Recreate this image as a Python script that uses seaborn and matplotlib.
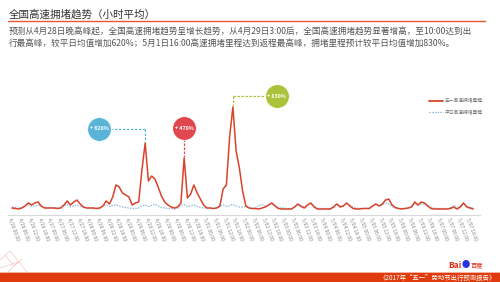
import numpy as np
import pandas as pd
import matplotlib
matplotlib.use("Agg")
import matplotlib.pyplot as plt
from matplotlib.lines import Line2D
from matplotlib.patches import Rectangle
import seaborn as sns

# ---------------- data (2-hourly, from 4/26 00:00) ----------------
holiday_by_day = [
    [7, 6.5, 6, 7, 9, 12, 10, 12, 13, 9, 7, 7],            # 4/26
    [7, 7, 6.5, 7, 10, 14, 10, 13, 15, 11, 8, 7],          # 4/27
    [7, 7, 6.5, 7, 9, 14, 11, 18, 30, 28, 22, 20],         # 4/28
    [18, 10, 12, 13, 45, 72, 34, 39, 36, 28, 19, 13],      # 4/29
    [10, 8, 7, 8, 12, 57, 17, 21, 30, 22, 16, 10],         # 4/30
    [7, 7, 6.5, 7, 9, 26, 30, 78, 108, 64, 47, 24],        # 5/01
    [9, 7, 6.5, 6.5, 6, 7, 8, 10, 12, 9, 6.5, 6],          # 5/02
    [6, 6, 6, 8, 11, 8.5, 7, 10, 12, 8, 6, 6],             # 5/03
    [6, 6, 6, 8, 11, 8, 9, 12, 9, 6.5, 6, 6],              # 5/04
    [6.5, 6.5, 6.5, 9, 11, 9, 11, 15, 16, 10, 7.5, 6.5],   # 5/05
    [6, 6.5, 7, 8, 13, 10, 13, 12, 9, 6.5, 6, 6],          # 5/06
    [6, 6, 6, 6.5, 8, 6, 8, 12, 8, 7, 6],                  # 5/07
]
normal_by_day = [
    [8, 7.5, 7, 7, 9, 10, 8.5, 9, 10, 8.5, 7.5, 7.5],
    [7.5, 7, 7, 7.5, 9.5, 10.5, 8.5, 9, 10, 8.5, 7.5, 7],
    [7, 7, 6.5, 7, 9, 10, 8.5, 9.5, 10.5, 9, 8, 7.5],
    [7, 6.5, 6.5, 7, 9, 10, 8.5, 9.5, 11, 9, 7.5, 7],
    [6.5, 6.5, 6, 7, 9.5, 10.5, 8.5, 9, 10, 8.5, 7.5, 7],
    [7, 6.5, 6.5, 7, 9, 10, 8.5, 9.5, 10.5, 9, 8, 8],
    [8, 7, 6.5, 7, 9.5, 10.5, 9, 10, 11, 9, 7.5, 7],
    [7, 6.5, 6.5, 8, 10.5, 9.5, 8, 10, 11.5, 9, 7, 6.5],
    [6.5, 6.5, 6.5, 8, 11, 9, 9, 11.5, 10, 7.5, 7, 6.5],
    [6.5, 6.5, 7, 9, 10.5, 9.5, 10, 12, 11, 8.5, 7, 6.5],
    [6.5, 6.5, 7, 8.5, 11.5, 10, 11, 11, 9.5, 7.5, 7, 6.5],
    [6.5, 6.5, 6.5, 7.5, 9.5, 8, 9, 11.5, 9, 7.5, 7],
]
series_names = ["五一高速拥堵里程", "平日高速拥堵里程"]
tick_labels = [f"{d.month}/{d.day:02d} {d.hour:02d}:00"
               for d in pd.date_range("2017-04-26 00:00", "2017-05-07 18:00", freq="6h")]
bubble_labels = ["+ 620%", "+ 470%", "+ 830%"]

holiday = np.concatenate([np.array(v, float) for v in holiday_by_day])
normal = np.concatenate([np.array(v, float) for v in normal_by_day])
hours = np.arange(len(holiday)) * 2

df = pd.DataFrame({
    "hour": np.concatenate([hours, hours]),
    "value": np.concatenate([holiday, normal]),
    "series": [series_names[0]] * len(hours) + [series_names[1]] * len(hours),
})

# ---------------- figure ----------------
sns.set_theme(style="white")
plt.rcParams["font.family"] = ["Noto Sans CJK SC", "DejaVu Sans"]
W, H = 500, 282
fig = plt.figure(figsize=(W / 100, H / 100), dpi=100)
fig.patch.set_facecolor("white")

def fx(x): return x / W
def fy(y): return 1 - y / H

# axes: hour 0 at px 12, hour 282 at px 470; value 0 at px 215
pxh = (470 - 12) / 282.0
ax_l, ax_r, ax_t, ax_b = 8, 480, 80, 215
ax = fig.add_axes([fx(ax_l), fy(ax_b), (ax_r - ax_l) / W, (ax_b - ax_t) / H])
ax.set_xlim(-(12 - ax_l) / pxh, 282 + (ax_r - 470) / pxh)
ax.set_ylim(0, ax_b - ax_t)

sns.lineplot(data=df, x="hour", y="value", hue="series", style="series",
             palette={series_names[0]: "#d8432c", series_names[1]: "#8db9de"},
             dashes={series_names[0]: "", series_names[1]: (1.2, 1.0)},
             linewidth=1.1, ax=ax, legend=False, zorder=3)
for ln in ax.get_lines():
    if ln.get_color() == "#8db9de":
        ln.set_zorder(2); ln.set_linewidth(0.9)

for s in ["top", "right", "left"]:
    ax.spines[s].set_visible(False)
ax.spines["bottom"].set_color("#d9d9d9")
ax.spines["bottom"].set_linewidth(0.8)
ax.set_yticks([])
ax.set_xticks(np.arange(0, 283, 6))
ax.set_xticklabels(tick_labels, rotation=-70, ha="left", va="top",
                   rotation_mode="anchor", fontsize=3.6, color="#888888")
ax.tick_params(axis="x", length=0, pad=2)
ax.set_xlabel(""); ax.set_ylabel("")
ax.patch.set_alpha(0)

# legend
handles = [Line2D([], [], color="#d8432c", lw=1.3),
           Line2D([], [], color="#8db9de", lw=0.9, ls=(0, (1.2, 1.0)))]
ax.legend(handles, series_names, loc="upper left",
          bbox_to_anchor=(fx(425), fy(94)), bbox_transform=fig.transFigure,
          frameon=False, fontsize=3.4, handlelength=3.0, handletextpad=0.3,
          labelspacing=1.3, labelcolor="#777777")

# bubbles with dashed leaders (peaks located from the data)
def peak_in(h0, h1):
    m = (hours >= h0) & (hours <= h1)
    i = np.argmax(np.where(m, holiday, -1))
    return hours[i], holiday[i]

p1 = peak_in(72, 95)
p2 = peak_in(96, 119)
p3 = peak_in(120, 143)
bubbles = [
    (p1, -28.5, 86, "#5ab4d8", "h"),
    (p2, 0.0, 87, "#e0474f", "v"),
    (p3, 27.0, 119, "#a9c43b", "h"),
]
for (ph, pv), dx, by, col, kind in bubbles:
    bx = ph + dx
    if kind == "h":
        edge = bx + (1 if dx > 0 else -1) * (-13 / pxh)
        ax.plot([ph, edge], [by, by], color=col, lw=0.9, ls=(0, (2, 1.2)), clip_on=False, zorder=4)
        ax.plot([ph, ph], [by, pv + 1], color=col, lw=0.9, ls=(0, (2, 1.2)), clip_on=False, zorder=4)
    else:
        ax.plot([ph, ph], [by - 11, pv + 1], color=col, lw=0.9, ls=(0, (2, 1.2)), clip_on=False, zorder=4)
    ax.scatter([bx], [by], s=290, color=col, edgecolor="white", linewidth=0.5,
               clip_on=False, zorder=5)
for ((ph, pv), dx, by, col, kind), lab in zip(bubbles, bubble_labels):
    ax.text(ph + dx, by, lab, ha="center", va="center", color="white",
            fontsize=3.8, fontweight="bold", zorder=6, clip_on=False)

# ---------------- header text ----------------
fig.text(fx(9), fy(14), "全国高速拥堵趋势（小时平均）", fontsize=7.6, color="#333333",
         ha="left", va="center")
fig.add_artist(Line2D([fx(8), fx(485)], [fy(21), fy(21)], color="#e8553a", lw=1.0))
line1 = "预测从4月28日晚高峰起，全国高速拥堵趋势呈增长趋势，从4月29日3:00后，全国高速拥堵趋势显著增高，至10:00达到出"
line2 = "行最高峰，较平日均值增加620%；5月1日16:00高速拥堵里程达到返程最高峰，拥堵里程预计较平日均值增加830%。"
fig.text(fx(9), fy(32), line1, fontsize=6.2, color="#555555", ha="left", va="center")
fig.text(fx(9), fy(43), line2, fontsize=6.2, color="#555555", ha="left", va="center")

# ---------------- footer ----------------
fig.add_artist(Rectangle((0, 0), 1, 9.5 / H, transform=fig.transFigure,
                         color="#df3b0c", zorder=0))
fig.add_artist(Line2D([0, 1], [fy(272), fy(272)], color="#f2a58f", lw=0.5))
fig.text(fx(496), fy(277.5), "《2017年“五一”劳动节出行预测报告》", fontsize=4.6,
         color="white", ha="right", va="center")
fig.text(fx(448), fy(265), "Bai", fontsize=6, color="#de2910", fontweight="bold",
         ha="left", va="center")
fig.text(fx(466), fy(264), "●", fontsize=6, color="#2932e1", ha="center", va="center")
fig.text(fx(471), fy(265), "百度", fontsize=4.5, color="#de2910", ha="left", va="center")

# faint decoration lower-left
for xs, ys in [([0, 10, 27], [260, 251, 272]), ([0, 18, 8], [268, 262, 272]),
               ([5, 14, 22], [255, 266, 259])]:
    fig.add_artist(Line2D([fx(v) for v in xs], [fy(v) for v in ys],
                          color="#f4b9b9", lw=0.4))

fig.savefig("out.png", dpi=100, facecolor="white")
